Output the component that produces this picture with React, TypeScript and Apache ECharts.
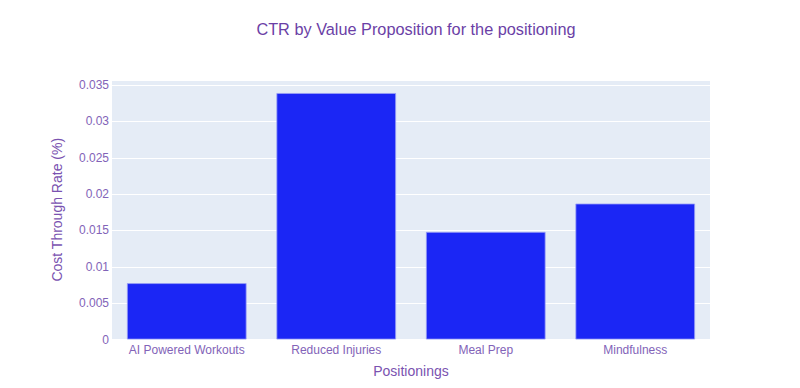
import React, { useEffect, useRef } from "react";
import * as echarts from "echarts";

const categories = ["AI Powered Workouts", "Reduced Injuries", "Meal Prep", "Mindfulness"];
const ctrValues = [0.00775, 0.0339, 0.0148, 0.0187];
const yTicks = [0, 0.005, 0.01, 0.015, 0.02, 0.025, 0.03, 0.035];

export default function App() {
  const ref = useRef<HTMLDivElement>(null);
  useEffect(() => {
    document.body.style.margin = "0";
    if (!ref.current) return;
    const chart = echarts.init(ref.current, null, { renderer: "svg" });
    const font = '"Liberation Sans", Arial, sans-serif';
    chart.setOption({
      animation: false,
      backgroundColor: "#ffffff",
      title: {
        text: "CTR by Value Proposition for the positioning",
        left: 411,
        top: 16,
        textAlign: "center",
        textStyle: { color: "#6b3fa6", fontSize: 16.3, fontWeight: "normal", fontFamily: font },
      },
      grid: { left: 112, right: 90, top: 80, bottom: 48.5, backgroundColor: "#E5ECF6", show: true, borderWidth: 0 },
      xAxis: {
        type: "category",
        data: categories,
        name: "Positionings",
        nameLocation: "middle",
        nameGap: 24,
        nameTextStyle: { color: "#7a52b0", fontSize: 14, fontFamily: font },
        axisLine: { show: false },
        axisTick: { show: false },
        axisLabel: { color: "#8263b8", fontSize: 12, fontFamily: font, margin: 4, interval: 0 },
        splitLine: { show: false },
      },
      yAxis: {
        type: "value",
        min: 0,
        max: 0.0357,
        interval: 0.005,
        name: "Cost Through Rate (%)",
        nameLocation: "middle",
        nameGap: 48,
        nameRotate: 90,
        nameTextStyle: { color: "#7a52b0", fontSize: 14, fontFamily: font },
        axisLine: { show: false },
        axisTick: { show: false },
        axisLabel: {
          color: "#8263b8",
          fontSize: 12,
          fontFamily: font,
          margin: 3,
          showMaxLabel: false,
          formatter: (v: number) => {
            const t = yTicks.find((k) => Math.abs(k - v) < 1e-9);
            return t === undefined ? "" : String(t);
          },
        },
        splitLine: { lineStyle: { color: "#ffffff", width: 1 } },
      },
      series: [
        {
          type: "bar",
          data: ctrValues,
          barCategoryGap: "20%",
          itemStyle: { color: "#1b26f5", borderColor: "#9aa0f5", borderWidth: 0.8 },
        },
      ],
    });
    return () => chart.dispose();
  }, []);
  return <div ref={ref} style={{ width: 800, height: 388 }} />;
}
